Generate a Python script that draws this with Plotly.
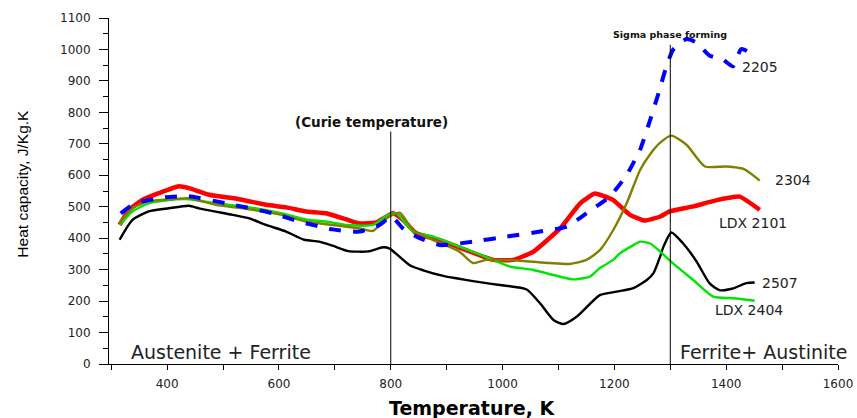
import plotly.graph_objects as go

# ---- data ----
t_2507 = [315, 338, 367, 403, 439, 457, 517, 547, 577, 613, 645, 672, 696, 724, 760, 786, 798,
          834, 858, 894, 953, 995, 1043, 1067, 1091, 1109, 1133, 1174, 1204, 1234, 1258, 1270,
          1282, 1288, 1302, 1323, 1347, 1370, 1388, 1412, 1436, 1451]
cp_2507 = [395, 458, 485, 495, 503, 495, 474, 463, 442, 421, 395, 389, 376, 359, 358, 371, 367,
           314, 298, 280, 262, 251, 237, 193, 140, 127, 151, 219, 230, 241, 267, 289,
           342, 374, 418, 383, 326, 257, 235, 240, 257, 259]

t_2404 = [315, 338, 367, 397, 439, 487, 547, 606, 648, 684, 723, 768, 795, 810, 840, 876, 923,
          971, 1013, 1055, 1091, 1126, 1156, 1174, 1198, 1210, 1234, 1246, 1264, 1282, 1305,
          1341, 1377, 1412, 1451]
cp_2404 = [442, 485, 511, 520, 524, 511, 498, 479, 460, 453, 442, 442, 474, 479, 421, 405, 373,
           340, 310, 299, 283, 269, 278, 305, 331, 352, 378, 389, 383, 357, 320,
           267, 214, 209, 201]

t_2304 = [314, 338, 367, 409, 439, 487, 547, 606, 648, 696, 744, 768, 792, 816, 840, 876, 923,
          947, 971, 1025, 1084, 1120, 1150, 1174, 1198, 1222, 1246, 1264, 1281, 1302, 1329,
          1362, 1401, 1431, 1460]
cp_2304 = [447, 495, 517, 524, 527, 506, 492, 474, 453, 442, 431, 423, 463, 481, 426, 394, 357,
           321, 331, 329, 321, 318, 331, 362, 426, 511, 617, 667, 702, 726, 697,
           628, 628, 620, 583]

t_2101 = [315, 332, 356, 385, 421, 439, 475, 529, 577, 613, 648, 684, 723, 744, 774, 804, 822,
          846, 888, 935, 983, 1019, 1055, 1103, 1139, 1165, 1198, 1228, 1254, 1282, 1299,
          1341, 1383, 1424, 1460]
cp_2101 = [442, 490, 522, 543, 565, 559, 538, 524, 506, 498, 485, 479, 458, 447, 450, 479, 458,
           415, 394, 362, 331, 331, 357, 431, 511, 542, 521, 474, 456, 469, 485,
           501, 521, 532, 490]

t_2205 = [317, 343, 397, 439, 505, 589, 636, 696, 744, 780, 801, 822, 846, 888, 947, 1007, 1067,
          1115, 1150, 1192, 1222, 1246, 1264, 1279, 1293, 1305, 1329, 1347, 1370, 1394, 1412,
          1427, 1451]
cp_2205 = [479, 511, 530, 533, 511, 479, 453, 428, 421, 442, 469, 431, 405, 378, 389, 405, 421,
           437, 479, 533, 601, 681, 776, 861, 946, 999, 1033, 1022, 981, 968, 946,
           1001, 982]

series_names = ["2507", "LDX 2404", "2304", "LDX 2101", "2205"]

x_ticks = [300, 400, 500, 600, 700, 800, 900, 1000, 1100, 1200, 1300, 1400, 1500, 1600]
x_tick_labels = ["", "400", "", "600", "", "800", "", "1000", "", "1200", "", "1400", "", "1600"]
y_ticks = [0, 100, 200, 300, 400, 500, 600, 700, 800, 900, 1000, 1100]
y_tick_labels = [str(v) for v in y_ticks]

# ---- figure ----
fig = go.Figure()
fig.add_trace(go.Scatter(x=t_2507, y=cp_2507, mode="lines", name=series_names[0],
                         line=dict(color="#000000", width=2.4, shape="spline", smoothing=0.6)))
fig.add_trace(go.Scatter(x=t_2101, y=cp_2101, mode="lines", name=series_names[3],
                         line=dict(color="#ff0000", width=4.5, shape="spline", smoothing=0.4)))
fig.add_trace(go.Scatter(x=t_2404, y=cp_2404, mode="lines", name=series_names[1],
                         line=dict(color="#00e600", width=2.4, shape="spline", smoothing=0.6)))
fig.add_trace(go.Scatter(x=t_2304, y=cp_2304, mode="lines", name=series_names[2],
                         line=dict(color="#808000", width=2.4, shape="spline", smoothing=0.6)))
fig.add_trace(go.Scatter(x=t_2205, y=cp_2205, mode="lines", name=series_names[4],
                         line=dict(color="#0000ff", width=4, dash="dash", shape="spline", smoothing=0.5)))

# vertical marker lines
fig.add_shape(type="line", xref="x", yref="y", x0=800, x1=800, y0=0, y1=739,
              line=dict(color="black", width=1))
fig.add_shape(type="line", xref="x", yref="y", x0=1300, x1=1300, y0=0, y1=1015,
              line=dict(color="black", width=1))

lab_font = dict(family="DejaVu Sans", size=14, color="#222222")
anns = [
    dict(x=1424, y=945, text=series_names[4], xanchor="left"),
    dict(x=1483, y=585, text=series_names[2], xanchor="left"),
    dict(x=1383, y=449, text=series_names[3], xanchor="left"),
    dict(x=1460, y=258, text=series_names[0], xanchor="left"),
    dict(x=1376, y=172, text=series_names[1], xanchor="left"),
]
for a in anns:
    fig.add_annotation(x=a["x"], y=a["y"], text=a["text"], xref="x", yref="y",
                       xanchor=a["xanchor"], yanchor="middle", showarrow=False, font=lab_font)

fig.add_annotation(x=332, y=39, xref="x", yref="y", text="Austenite + Ferrite", showarrow=False,
                   xanchor="left", yanchor="middle",
                   font=dict(family="DejaVu Sans", size=19, color="#222222"))
fig.add_annotation(x=1313, y=39, xref="x", yref="y", text="Ferrite+ Austinite", showarrow=False,
                   xanchor="left", yanchor="middle",
                   font=dict(family="DejaVu Sans", size=19, color="#222222"))
fig.add_annotation(x=766, y=770, xref="x", yref="y", text="<b>(Curie temperature)</b>",
                   showarrow=False, xanchor="center", yanchor="middle",
                   font=dict(family="DejaVu Sans", size=13.5, color="#111111"))
fig.add_annotation(x=1300, y=1047, xref="x", yref="y", text="<b>Sigma phase forming</b>",
                   showarrow=False, xanchor="center", yanchor="middle",
                   font=dict(family="DejaVu Sans", size=9.5, color="#111111"))

# axis titles
fig.add_annotation(x=-0.119, y=0.522, xref="paper", yref="paper", text="Heat capacity, J/Kg.K",
                   textangle=-90, showarrow=False, xanchor="center", yanchor="middle",
                   font=dict(family="Liberation Sans", size=15.5, color="#000000"))
fig.add_annotation(x=0.498, y=-0.127, xref="paper", yref="paper", text="<b>Temperature, K</b>",
                   showarrow=False, xanchor="center", yanchor="middle",
                   font=dict(family="DejaVu Sans", size=19, color="#000000"))

fig.update_layout(
    width=857, height=418,
    margin=dict(l=109, r=19, t=18, b=54, autoexpand=False),
    paper_bgcolor="white", plot_bgcolor="white",
    showlegend=False,
    xaxis=dict(range=[296, 1600], tickmode="array", tickvals=x_ticks, ticktext=x_tick_labels,
               ticks="outside", ticklen=5, tickcolor="black", tickwidth=1,
               showline=True, linecolor="black", linewidth=1, showgrid=False, zeroline=False,
               ticklabelstandoff=4, automargin=False,
               tickfont=dict(family="DejaVu Sans", size=12, color="#222222")),
    yaxis=dict(range=[0, 1100], tickmode="array", tickvals=y_ticks, ticktext=y_tick_labels,
               ticks="outside", ticklen=9, tickcolor="black", tickwidth=1,
               minor=dict(dtick=50, tick0=0, ticks="outside", ticklen=5, tickcolor="black"),
               showline=True, linecolor="black", linewidth=1, showgrid=False, zeroline=False,
               ticklabelstandoff=6, automargin=False,
               tickfont=dict(family="DejaVu Sans", size=12, color="#222222")),
)

fig.write_html("out.html", config={"displayModeBar": False},
               post_script="document.body.style.margin='0';document.body.style.overflow='hidden';")
